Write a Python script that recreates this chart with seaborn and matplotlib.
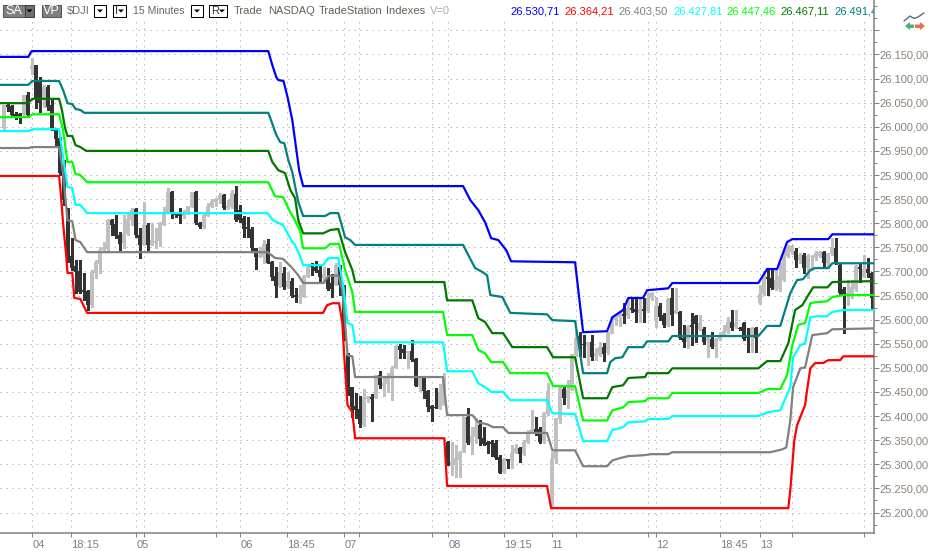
import matplotlib
matplotlib.use("Agg")
import matplotlib.pyplot as plt
from matplotlib.patches import Rectangle, Polygon
from matplotlib.ticker import FuncFormatter, MultipleLocator
from matplotlib.transforms import Affine2D
import numpy as np
import pandas as pd
import seaborn as sns

bar_open = [25997,26045,26043,26026,26026,26024,26066,26120,26128,26095,
26060,26083,26045,25993,25977,25910,25821,25732,25711,25701,
25661,25659,25630,25697,25715,25744,25746,25806,25798,25775,
25759,25777,25806,25829,25775,25755,25796,25755,25759,25763,
25796,25823,25865,25821,25819,25815,25821,25833,25865,25800,
25792,25815,25833,25844,25848,25858,25831,25833,25860,25827,
25811,25792,25788,25748,25730,25730,25757,25719,25690,25670,
25697,25667,25680,25651,25647,25647,25688,25711,25709,25703,
25686,25688,25676,25672,25709,25661,25526,25460,25421,25414,
25381,25435,25439,25437,25485,25462,25466,25479,25499,25545,
25539,25530,25535,25518,25462,25479,25452,25421,25418,25414,
25423,25346,25298,25298,25309,25325,25398,25344,25356,25381,
25354,25346,25346,25344,25315,25284,25311,25306,25323,25333,
25321,25346,25367,25373,25373,25348,25404,25211,25311,25394,
25456,25437,25454,25526,25566,25549,25547,25553,25524,25526,
25543,25531,25572,25599,25605,25611,25607,25624,25622,25614,
25622,25618,25645,25599,25628,25609,25589,25645,25614,25616,
25562,25553,25589,25607,25578,25580,25555,25560,25543,25560,
25568,25574,25595,25584,25582,25593,25564,25562,25582,25634,
25653,25688,25686,25663,25663,25682,25732,25740,25742,25723,
25734,25707,25730,25728,25732,25740,25717,25736,25748,25713,
25663,25647,25647,25663,25709,25688,25705,25697]
bar_close = [26045,26041,26024,26022,26022,26066,26024,26128,26060,26049,
26083,26041,25997,25975,25904,25848,25723,25707,25699,25657,
25657,25630,25699,25719,25744,25748,25806,25796,25773,25757,
25777,25809,25827,25775,25755,25796,25755,25765,25763,25800,
25823,25865,25821,25817,25815,25821,25836,25865,25800,25792,
25817,25836,25846,25850,25858,25831,25836,25862,25806,25806,
25788,25788,25748,25730,25734,25757,25717,25688,25670,25699,
25667,25680,25649,25647,25651,25690,25709,25709,25701,25688,
25694,25663,25663,25713,25672,25572,25447,25418,25412,25383,
25439,25439,25435,25485,25464,25468,25479,25499,25545,25537,
25530,25535,25516,25462,25483,25452,25418,25414,25416,25450,
25479,25302,25304,25313,25325,25398,25344,25358,25377,25352,
25342,25340,25342,25313,25282,25311,25306,25323,25333,25321,
25346,25367,25373,25367,25346,25406,25452,25311,25396,25458,
25437,25454,25528,25562,25547,25547,25553,25522,25531,25543,
25528,25572,25599,25605,25614,25607,25624,25620,25616,25622,
25618,25645,25655,25628,25605,25589,25643,25609,25620,25562,
25553,25584,25584,25591,25593,25553,25562,25543,25560,25568,
25576,25595,25582,25593,25580,25560,25562,25582,25562,25653,
25686,25684,25665,25682,25690,25738,25750,25753,25723,25734,
25707,25732,25732,25738,25740,25717,25738,25750,25717,25655,
25653,25655,25667,25711,25705,25705,25697,25645]
bar_high = [26045,26049,26045,26031,26028,26066,26072,26143,26128,26103,
26087,26087,26058,25997,25979,25931,25831,25769,25723,25723,
25697,25661,25703,25723,25750,25761,25809,25809,25817,25782,
25817,25819,25831,25831,25790,25844,25800,25800,25790,25802,
25833,25873,25867,25823,25831,25827,25836,25865,25867,25802,
25819,25842,25850,25852,25862,25860,25848,25869,25877,25838,
25815,25813,25792,25748,25750,25765,25767,25721,25709,25719,
25709,25699,25686,25665,25672,25692,25713,25717,25721,25713,
25709,25707,25694,25717,25713,25672,25530,25460,25448,25441,
25456,25441,25445,25485,25493,25479,25489,25504,25547,25549,
25547,25535,25557,25520,25483,25483,25454,25423,25458,25466,
25489,25348,25346,25340,25327,25398,25416,25377,25396,25391,
25377,25348,25350,25350,25319,25313,25311,25340,25342,25335,
25350,25371,25412,25398,25377,25408,25468,25325,25396,25460,
25460,25474,25528,25578,25574,25568,25553,25568,25541,25553,
25551,25574,25605,25609,25616,25634,25645,25647,25645,25645,
25645,25655,25657,25647,25634,25614,25645,25665,25665,25618,
25589,25589,25614,25609,25609,25584,25568,25574,25562,25574,
25589,25605,25620,25620,25584,25595,25582,25584,25584,25672,
25699,25703,25703,25703,25717,25744,25755,25755,25748,25738,
25738,25736,25734,25742,25742,25742,25738,25769,25769,25717,
25667,25682,25682,25713,25717,25734,25728,25699]
bar_low = [25993,26033,26022,26016,26008,26020,26020,26109,26039,26031,
26041,26035,25993,25958,25900,25838,25719,25703,25655,25655,
25640,25620,25626,25686,25697,25740,25744,25775,25769,25744,
25748,25775,25796,25771,25728,25755,25744,25755,25748,25753,
25796,25821,25811,25813,25800,25811,25819,25833,25798,25790,
25790,25815,25833,25836,25842,25829,25829,25831,25804,25802,
25771,25771,25744,25705,25730,25717,25717,25682,25647,25667,
25663,25665,25647,25636,25634,25647,25688,25692,25699,25678,
25676,25661,25647,25672,25651,25557,25443,25398,25396,25377,
25379,25429,25389,25437,25458,25441,25450,25433,25499,25520,
25520,25499,25514,25462,25452,25437,25410,25389,25416,25414,
25423,25298,25277,25273,25273,25325,25342,25321,25344,25340,
25340,25323,25317,25311,25282,25282,25292,25292,25323,25304,
25319,25344,25365,25360,25344,25344,25402,25209,25302,25385,
25425,25416,25454,25524,25524,25522,25506,25516,25516,25524,
25514,25528,25572,25589,25587,25593,25603,25616,25595,25595,
25595,25616,25640,25584,25599,25584,25587,25589,25614,25560,
25543,25541,25547,25553,25578,25549,25522,25541,25522,25557,
25566,25572,25578,25582,25578,25557,25533,25533,25533,25632,
25651,25651,25663,25661,25659,25680,25730,25736,25709,25717,
25697,25686,25703,25723,25730,25707,25707,25734,25715,25653,
25572,25630,25645,25659,25678,25688,25688,25620]

blue_x = [-1,6.2,7,66.2,67.2,68.2,68.7,70,71,72.2,73.9,74.9,114.9,116.7,118.7,120.4,121.9,123.7,125.7,126.9,142.9,143.7,144.9,150.9,152.2,154.9,156.2,159.9,160.9,166.2,167.2,188.7,190.9,193.4,195.9,197.2,206.2,207.2,218]
blue_y = [26145,26145,26157,26157,26128,26103,26097,26095,26062,26014,25910,25877,25877,25848,25827,25802,25769,25765,25744,25721,25719,25661,25574,25576,25605,25620,25645,25645,25661,25665,25676,25676,25705,25705,25761,25767,25767,25777,25777]
teal_x = [-1,6.2,7.2,13.9,14.9,16,17.2,18,19.2,20.2,66.2,66.7,68.2,69.2,70.2,71.2,72.2,73.7,74.9,80.4,81.7,83.7,85.4,86.7,87.9,114.9,116.2,117.9,119.7,120.9,121.7,124.7,126.7,135.9,137.2,142.9,144.9,150.9,151.7,152.9,154.7,156.2,159.9,160.9,166.2,167.2,188.7,190.9,194.2,196.7,198.4,199.9,201.7,202.9,206.2,207.2,218]
teal_y = [26087,26087,26095,26095,26076,26049,26047,26037,26035,26029,26029,26018,25983,25968,25966,25931,25906,25844,25815,25815,25821,25821,25771,25765,25755,25755,25734,25707,25699,25692,25651,25647,25614,25611,25599,25597,25489,25489,25512,25520,25522,25543,25543,25555,25555,25566,25566,25587,25587,25655,25682,25684,25703,25707,25707,25717,25717]
green_x = [-1,6.2,7.2,13.9,14.6,15.4,16,17.2,18,19.2,20.7,66.2,67.2,68.7,70.4,71.7,72.9,73.7,74.9,79.9,81.7,83.7,85.4,87.2,87.9,110.2,110.9,117.2,118.7,120.4,122.2,124.9,127.2,135.9,137.4,142.9,144.9,150.9,152.2,154.9,156.2,160.4,160.9,166.2,167.2,188.7,190.9,194.2,196.2,197.9,199.7,201.2,202.4,206,207.2,218]
green_y = [26049,26049,26058,26058,26035,25997,25981,25981,25962,25958,25950,25950,25927,25910,25904,25869,25852,25806,25779,25779,25786,25788,25740,25703,25678,25678,25640,25640,25603,25595,25572,25572,25543,25543,25522,25522,25437,25437,25460,25464,25479,25481,25489,25489,25499,25499,25514,25514,25551,25620,25630,25651,25667,25667,25678,25680]
lime_x = [-1,6.2,7.2,13.9,14.9,16,17.2,18,19.2,20.9,66.2,67.9,69.9,71.7,72.9,74.2,74.9,80.4,81.7,83.9,85.4,87.2,87.9,109.9,110.9,117.2,118.7,120.4,121.9,124.9,126.7,135.9,137.4,142.9,144.9,150.9,152.2,154.9,156.2,160.4,161.2,166.2,167.2,188.7,190.9,194.2,195.9,197.2,198.7,200.4,201.7,202.9,205.9,207.2,209.9,218]
lime_y = [26020,26020,26026,26026,25993,25927,25927,25902,25900,25885,25885,25856,25854,25823,25806,25782,25748,25748,25757,25757,25703,25657,25616,25616,25568,25568,25537,25530,25512,25512,25489,25489,25462,25462,25391,25391,25412,25418,25429,25431,25437,25437,25448,25448,25456,25456,25485,25547,25589,25593,25634,25636,25638,25647,25651,25651]
cyan_x = [-1,6.2,7.2,13.9,14.9,16,17.2,18,19.2,20.9,66,67.4,69.9,72.2,72.9,74.2,74.9,79.9,81.2,83.7,85,86,87.2,87.9,109.9,110.9,117.2,118.7,120.4,121.9,124.9,126.7,135.9,137.2,142.9,144.9,150.9,152.2,154.9,156.2,160.4,161.2,166.2,167.2,188.7,191.2,194.2,196.7,197.4,199.2,200.4,201.7,203.4,205.9,207.2,209.9,218]
cyan_y = [25991,25991,25995,25995,25937,25875,25873,25838,25838,25821,25821,25806,25796,25761,25755,25730,25713,25713,25728,25728,25667,25593,25589,25553,25553,25493,25493,25468,25460,25450,25450,25433,25433,25406,25404,25348,25348,25371,25377,25387,25389,25394,25394,25400,25400,25408,25412,25460,25522,25547,25551,25605,25607,25607,25616,25620,25620]
gray_x = [-1,6.2,7.2,13.9,14.9,16,17.2,18,19.2,20.9,66,67.9,69.9,72.2,73.7,74.9,79.9,81.2,83.7,84.7,85.4,86,87.2,87.9,109.9,110.9,117.2,118.7,120.9,122.4,124.9,126.2,135.9,137.2,142.9,144.9,150.9,152.2,154.2,156.2,160.4,161.7,166.2,167.2,191.7,194.7,195.7,196.7,197.4,199.2,200.4,202.2,205.9,207.2,218]
gray_y = [25956,25956,25958,25958,25904,25806,25804,25765,25761,25740,25740,25728,25726,25707,25692,25676,25676,25690,25692,25661,25593,25526,25524,25481,25481,25402,25402,25387,25383,25377,25377,25365,25365,25329,25329,25296,25296,25308,25313,25317,25319,25321,25321,25325,25325,25331,25335,25391,25460,25499,25501,25568,25572,25580,25582]
red_x = [-1,13.9,14.4,14.9,15.7,16,17.2,17.7,19.2,20.9,79.9,80.9,82.2,83.9,84.7,85.2,86,87.2,87.9,110.2,110.9,135.9,136.9,196.2,196.7,197.7,198.4,200.4,200.9,201.7,202.9,204.9,206.2,209.2,209.9,218]
red_y = [25898,25898,25854,25800,25730,25697,25697,25645,25643,25614,25614,25630,25634,25634,25593,25522,25423,25408,25354,25354,25255,25255,25209,25209,25246,25350,25381,25423,25454,25499,25510,25510,25516,25516,25524,25524]

tick_bars = [7.2,16.9,33.2,35.2,53.2,59.2,70.9,85.2,88.9,107.2,111.2,125.2,137,143,161.2,163.2,179.2,189.2,197,215.2]
tick_labels = ["04","18:15","05","","","06","18:45","07","","","08","19:15","11","","","12","18:45","13","",""]
price_ticks = list(range(25200, 26201, 50))
header_values = ["26.530,71","26.364,21","26.403,50","26.427,81","26.447,46","26.467,11","26.491,41"]
header_colors = ["#0000ff","#ff0000","#808080","#00ffff","#00ff00","#007800","#008080"]
header_left = [510,564,618,673,726,780,834]

sns.set_theme(style="white")
FONT = ["Liberation Sans", "DejaVu Sans"]
plt.rcParams["font.family"] = FONT
W, H = 934, 551
fig = plt.figure(figsize=(W/100, H/100), dpi=100, facecolor="white")
ax = fig.add_axes([0, (H-533)/H, 874/W, 533/H])
XMIN, XMAX = -0.875, 217.625
ax.set_xlim(XMIN, XMAX)
ax.set_ylim(25157.5, 26263)
GRID = "#b8b8b8"
DOT = (0, (1.5, 4.5))
ax.hlines(price_ticks, XMIN, XMAX, colors=GRID, linewidth=0.72, linestyles=[DOT], zorder=0)
ax.vlines(tick_bars, 25157.5, 26226, colors=GRID, linewidth=0.72, linestyles=[DOT], zorder=0)

df = pd.DataFrame({"bar": np.arange(len(bar_open)), "open": bar_open, "close": bar_close,
                   "high": bar_high, "low": bar_low})
df["color"] = np.where(df["close"] >= df["open"], "#c0c0c0", "#333333")
ax.vlines(df["bar"], df["low"], df["high"], colors=df["color"], linewidth=0.75, zorder=2, antialiased=False)
body_lo = df[["open", "close"]].min(axis=1)
body_h = (df["close"] - df["open"]).abs().clip(lower=2.5)
ax.bar(df["bar"], body_h, bottom=body_lo, width=0.82, color=df["color"], linewidth=0, zorder=3, antialiased=False)

for xs, ys, c in [(blue_x, blue_y, "#0000ff"), (teal_x, teal_y, "#008080"), (green_x, green_y, "#007800"),
                  (lime_x, lime_y, "#00ff00"), (gray_x, gray_y, "#808080"), (red_x, red_y, "#ff0000"),
                  (cyan_x, cyan_y, "#00ffff")]:
    sns.lineplot(x=xs, y=ys, color=c, linewidth=1.6, estimator=None, sort=False, ax=ax, legend=False, zorder=4)

TXT = "#808080"
for s in ("top", "left"):
    ax.spines[s].set_visible(False)
for s in ("bottom", "right"):
    ax.spines[s].set_visible(True)
    ax.spines[s].set_color("#808080")
    ax.spines[s].set_linewidth(1.1)
ax.set_xlabel("")
ax.set_ylabel("")
ax.set_xticks(tick_bars)
ax.set_xticklabels(tick_labels, ha="left", fontsize=8, color="#708090")
ax.tick_params(axis="x", length=3, width=0.75, color="#808080", pad=2, bottom=True)
ax.yaxis.tick_right()
ax.set_yticks(price_ticks)
ax.yaxis.set_minor_locator(MultipleLocator(25))
ax.yaxis.set_major_formatter(FuncFormatter(
    lambda v, p: "" if v > 26160 else f"{v:,.2f}".replace(",", "#").replace(".", ",").replace("#", ".")))
ax.tick_params(axis="y", which="major", length=3.5, width=0.75, color="#808080", labelsize=8, labelcolor="#8c8278", pad=0.5, right=True)
ax.tick_params(axis="y", which="minor", length=2, width=0.75, color="#808080", right=True)

px = Affine2D().scale(1, -1).translate(0, H)  # figure pixels, origin top left


def label(x, y, s, color=TXT, ha="left", size=8, clip=False):
    t = fig.text(x, y, s, transform=px, color=color, ha=ha, va="center", fontsize=size, zorder=10)
    if clip:
        t.set_clip_box(ax.bbox)
        t.set_clip_on(True)
    return t


def box(x0, y0, x1, y1, fc, ec="#000000", lw=0.75):
    fig.add_artist(Rectangle((x0, y0), x1-x0, y1-y0, transform=px, facecolor=fc, edgecolor=ec, linewidth=lw, zorder=9))


def arrow(cx, cy, color="#000000"):
    fig.add_artist(Polygon([(cx-3, cy-1.5), (cx+3, cy-1.5), (cx, cy+1.5)], closed=True, transform=px, facecolor=color, edgecolor="none", zorder=11))


box(2.5, 5, 25, 17, "#808080", "#555555")
label(13.5, 11, "SA", color="white", ha="center", size=9)
box(25, 5, 34, 17, "#707070", "#404040")
arrow(29.5, 11)
box(42, 5, 61, 17, "#808080", "#555555")
label(51.5, 11, "VP", color="white", ha="center", size=9)
label(67, 11, "$DJI", color="#6a6a6a")
box(94, 5, 106, 17, "white")
arrow(100, 11)
box(113, 5, 126, 17, "white")
label(115.5, 11, "I", color="#333333")
arrow(121, 11)
label(133, 11, "15 Minutes", color="#666666", size=7.6)
box(191, 5, 203, 17, "white")
arrow(197, 11)
box(209, 5, 227, 17, "white")
label(211.5, 11, "R", color="#333333")
arrow(222, 11)
label(234, 11, "Trade", color="#665f55")
label(268, 11, "NASDAQ", color="#665f55")
label(319, 11, "TradeStation", color="#665f55")
label(386, 11, "Indexes", color="#665f55")
label(430, 11, "V=0", color="#aaaaaa")
for x, s, c in zip(header_left, header_values, header_colors):
    label(x, 11, s, color=c, clip=True)

# small navigation icon
fig.add_artist(plt.Line2D([904, 910, 914, 918, 924], [21, 16, 18.5, 17, 13], transform=px, color="#5a6a78", linewidth=1.0, zorder=9))
fig.add_artist(Polygon([(905, 26), (910, 22), (910, 24.5), (914, 24.5), (914, 28), (910, 28), (910, 30)], closed=True, transform=px, facecolor="#4fae78", edgecolor="none", zorder=9))
fig.add_artist(Polygon([(925, 26), (920, 22), (920, 24.5), (915, 24.5), (915, 28), (920, 28), (920, 30)], closed=True, transform=px, facecolor="#e0704f", edgecolor="none", zorder=9))

fig.savefig("out.png", dpi=100, facecolor="white")
